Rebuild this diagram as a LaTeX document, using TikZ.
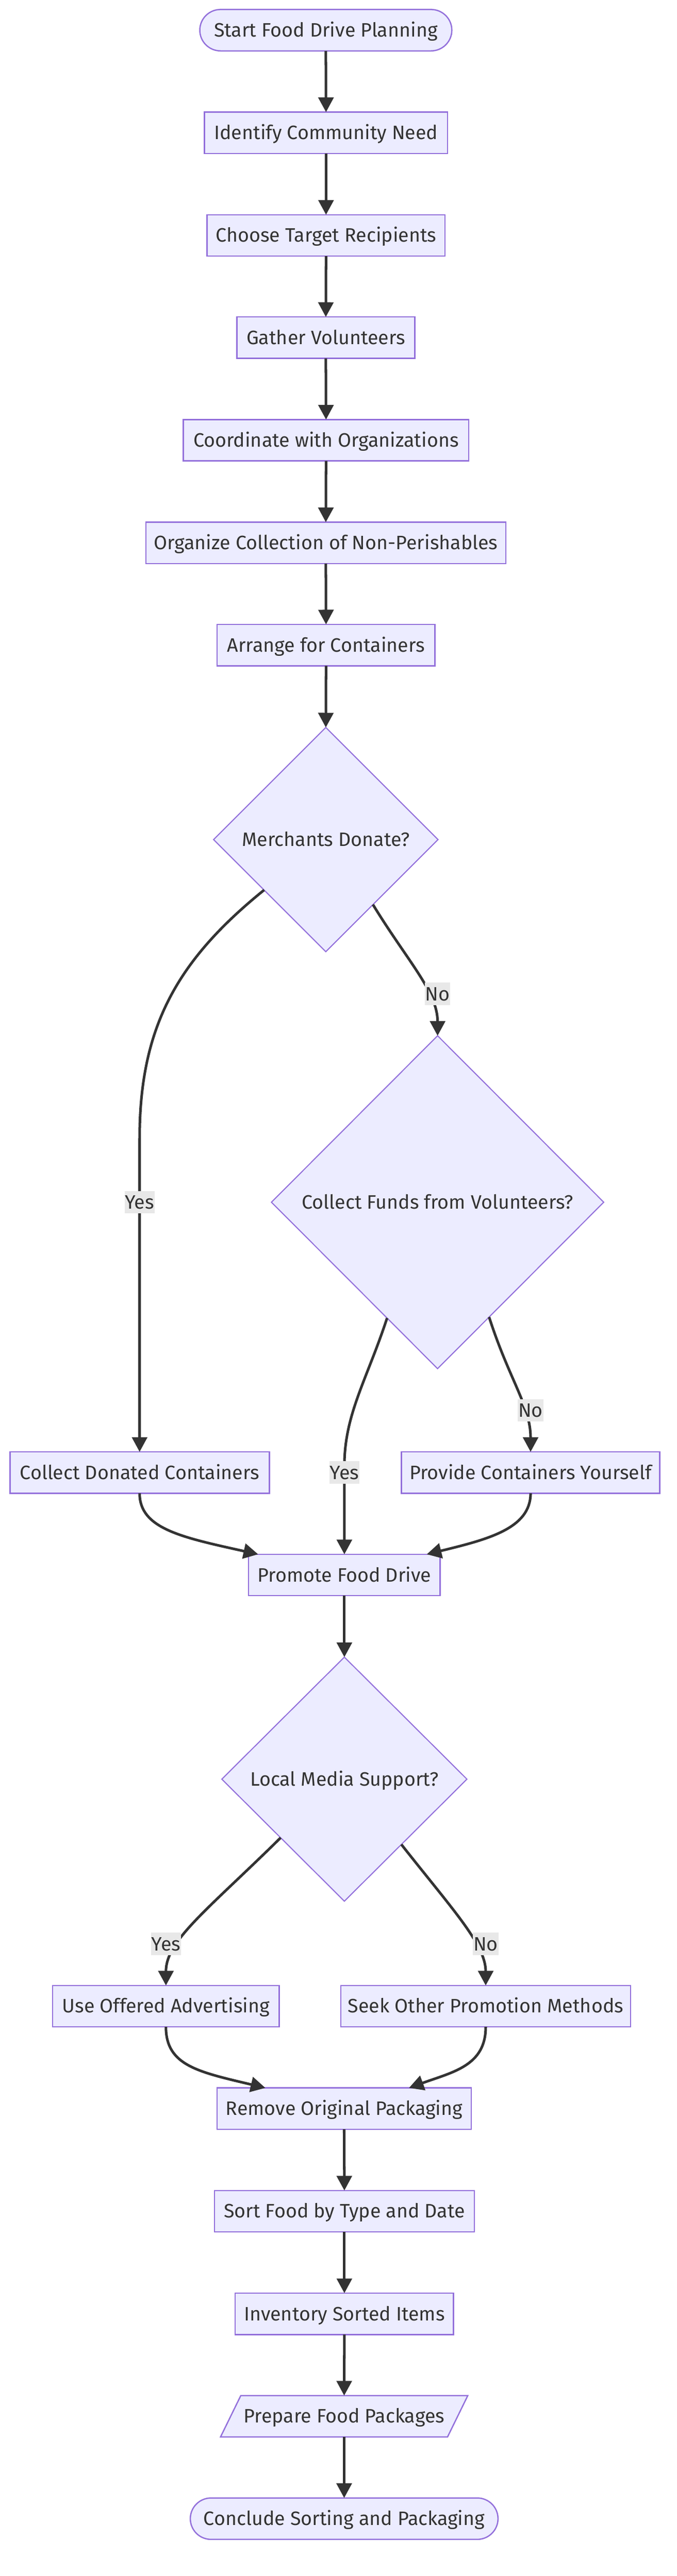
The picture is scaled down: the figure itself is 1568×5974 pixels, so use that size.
\documentclass[tikz,border=0pt]{standalone}
\usepackage{fontspec}
\setmainfont{Fira Sans}
\usetikzlibrary{shapes.geometric,shapes.misc,arrows.meta,calc,backgrounds}
\definecolor{nodefill}{HTML}{ECECFF}
\definecolor{nodeline}{HTML}{9370DB}
\definecolor{edgecol}{HTML}{333333}
\definecolor{lblbg}{HTML}{E8E8E8}
\begin{document}
\begin{tikzpicture}[x=1pt,y=-1pt,
  txt/.style={text=edgecol,font=\fontsize{45}{54}\selectfont,text height=40pt,text depth=9pt},
  box/.style={txt,draw=nodeline,fill=nodefill,line width=3pt,inner sep=0pt,outer sep=0pt,minimum height=96pt},
  stadium/.style={box,rounded rectangle},
  decision/.style={txt,diamond,draw=nodeline,fill=nodefill,line width=2.5pt,inner sep=0pt,outer sep=0pt},
  ghost/.style={txt,inner sep=0pt,outer sep=0pt,minimum height=96pt},
  para/.style={draw=nodeline,fill=nodefill,line width=3pt,line join=miter},
  edge/.style={draw=edgecol,line width=6pt,-{Triangle[length=34pt,width=35pt]}},
  lbl/.style={txt,fill=lblbg,inner xsep=1pt,inner ysep=1.5pt}]
\useasboundingbox (0,0) rectangle (1568,5974);

% nodes
\node[stadium,minimum width=584pt] (start) at (755,70) {Start Food Drive Planning};
\node[box,minimum width=563pt] (ident) at (755.5,308) {Identify Community Need};
\node[box,minimum width=551pt] (choose) at (755.5,546) {Choose Target Recipients};
\node[box,minimum width=412pt] (gather) at (755,783) {Gather Volunteers};
\node[box,minimum width=661pt] (coord) at (755.5,1021) {Coordinate with Organizations};
\node[box,minimum width=834pt] (organize) at (755,1259) {Organize Collection of Non-Perishables};
\node[box,minimum width=505pt] (arrange) at (755.5,1496) {Arrange for Containers};
\node[decision,minimum width=520pt,minimum height=520pt] (merch) at (755,1947) {Merchants Donate?};
\node[decision,minimum width=770pt,minimum height=772pt] (cf) at (1014,2788) {Collect Funds from Volunteers?};
\node[box,minimum width=601pt] (cdon) at (323.5,3415) {Collect Donated Containers};
\node[box,minimum width=599pt] (prov) at (1229.5,3415) {Provide Containers Yourself};
\node[box,minimum width=444pt] (prom) at (798,3652.5) {Promote Food Drive};
\node[decision,minimum width=568pt,minimum height=566pt] (lm) at (798,4126) {Local Media Support?};
\node[box,minimum width=525pt] (uoff) at (384.5,4652.5) {Use Offered Advertising};
\node[box,minimum width=671pt] (seek) at (1125.5,4652.5) {Seek Other Promotion Methods};
\node[box,minimum width=589pt] (rem) at (797.5,4890) {Remove Original Packaging};
\node[box,minimum width=602pt] (sort) at (798,5128) {Sort Food by Type and Date};
\node[box,minimum width=506pt] (inv) at (798,5366) {Inventory Sorted Items};
\node[ghost,minimum width=526pt] (prep) at (797.5,5603.5) {Prepare Food Packages};
\node[stadium,minimum width=713pt] (conc) at (797.5,5841) {Conclude Sorting and Packaging};

\begin{pgfonlayer}{background}
\draw[para] ($(prep.north west)+(23.5,0)$) -- ($(prep.north east)+(23.5,0)$) -- ($(prep.south east)+(-23.5,0)$) -- ($(prep.south west)+(-23.5,0)$) -- cycle;
\end{pgfonlayer}

% exit points on diamond edges
\coordinate (myes) at ($(merch.west)!0.45!(merch.south)$);
\coordinate (mno) at ($(merch.east)!0.58!(merch.south)$);
\coordinate (cfyes) at ($(cf.west)!0.696!(cf.south)$);
\coordinate (cfno) at ($(cf.east)!0.69!(cf.south)$);
\coordinate (lmyes) at ($(lm.west)!0.48!(lm.south)$);
\coordinate (lmno) at ($(lm.east)!0.535!(lm.south)$);

% straight connectors
\draw[edge] (start.south) -- (ident.north);
\draw[edge] (ident.south) -- (choose.north);
\draw[edge] (choose.south) -- (gather.north);
\draw[edge] (gather.south) -- (coord.north);
\draw[edge] (coord.south) -- (organize.north);
\draw[edge] (organize.south) -- (arrange.north);
\draw[edge] (arrange.south) -- (merch.north);
\draw[edge] (prom.south) -- (lm.north);
\draw[edge] (rem.south) -- (sort.north);
\draw[edge] (sort.south) -- (inv.north);
\draw[edge] (inv.south) -- (prep.north);
\draw[edge] (prep.south) -- (conc.north);

% curved connectors
\draw[edge] (myes) .. controls (412,2226) and (323.5,2380) .. ($(cdon.north)+(0,-727)$) -- (cdon.north);
\draw[edge] (mno) .. controls (945,2230) and (1014,2300) .. (cf.north);
\draw[edge] (cfyes) .. controls (850,3200) and (798,3280) .. ($(prom.north)+(0,-205)$) -- (prom.north);
\draw[edge] (cfno) .. controls (1180,3200) and (1229.5,3260) .. (prov.north);
\draw[edge] (cdon.south) .. controls ($(cdon.south)+(0,82)$) and (420,3565) .. ($(prom.north west)!0.05!(prom.north east)$);
\draw[edge] (prov.south) .. controls ($(prov.south)+(0,82)$) and (1130,3570) .. ($(prom.north west)!0.93!(prom.north east)$);
\draw[edge] (lmyes) .. controls (480,4430) and (384.5,4500) .. (uoff.north);
\draw[edge] (lmno) .. controls (1050,4430) and (1125.5,4510) .. (seek.north);
\draw[edge] (uoff.south) .. controls ($(uoff.south)+(0,90)$) and (460,4805) .. ($(rem.north west)!0.19!(rem.north east)$);
\draw[edge] (seek.south) .. controls ($(seek.south)+(0,90)$) and (1050,4805) .. ($(rem.north west)!0.755!(rem.north east)$);

% edge labels
\node[lbl] (lno1) at (1014,2305) {No};
\node[lbl] (lyes1) at (323.5,2788) {Yes};
\node[lbl] (lyes2) at (798,3415) {Yes};
\node[lbl] (lno2) at (1229.5,3271) {No};
\node[lbl] (lyes3) at (384.5,4508) {Yes};
\node[lbl] (lno3) at (1125.5,4508) {No};
\end{tikzpicture}
\end{document}
